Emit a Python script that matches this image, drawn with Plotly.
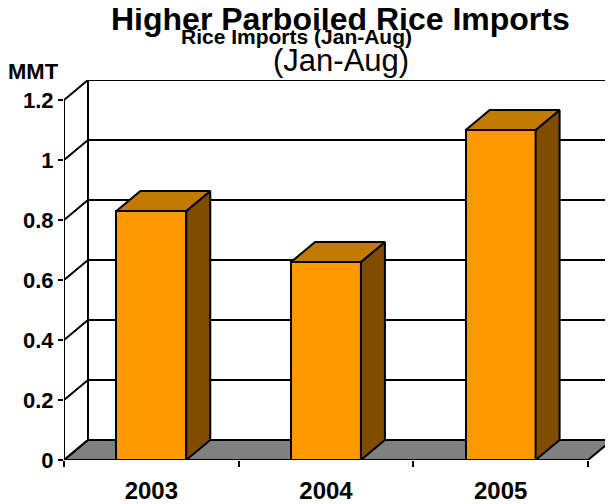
import plotly.graph_objects as go

# ---- data ----
categories = ["2003", "2004", "2005"]
imports_mmt = [0.83, 0.66, 1.10]
y_ticks = [0, 0.2, 0.4, 0.6, 0.8, 1.0, 1.2]
y_tick_labels = ["0", "0.2", "0.4", "0.6", "0.8", "1", "1.2"]

# ---- styling / geometry ----
FONT = "Liberation Sans, Arial, sans-serif"
FRONT = "#FF9900"
TOP = "#C27A00"
SIDE = "#7F4C00"
FLOOR = "#808080"
OFF = 8                      # page body margin of the html
W, H = 613 - OFF, 504 - OFF
L, T = 64 - OFF, 80 - OFF
plot_w, plot_h = 548, 380
R = W - L - plot_w
B = H - T - plot_h
DX = 0.1374          # depth offset in category units
DY = 0.0667          # depth offset in value units
BAR_W = 0.40
ymax = max(y_ticks)
n = len(categories)
centers = [i + 0.5 for i in range(n)]

fig = go.Figure()

# front faces
fig.add_trace(go.Bar(
    x=centers, y=imports_mmt, width=BAR_W,
    marker=dict(color=FRONT, line=dict(color="black", width=2)),
    hoverinfo="skip", showlegend=False,
))

# side and top faces
for c, v in zip(centers, imports_mmt):
    xl, xr = c - BAR_W / 2, c + BAR_W / 2
    fig.add_trace(go.Scatter(
        x=[xr, xr + DX, xr + DX, xr, xr], y=[0, DY, v + DY, v, 0],
        fill="toself", fillcolor=SIDE, mode="lines",
        line=dict(color="black", width=2), hoverinfo="skip", showlegend=False))
    fig.add_trace(go.Scatter(
        x=[xl, xr, xr + DX, xl + DX, xl], y=[v, v, v + DY, v + DY, v],
        fill="toself", fillcolor=TOP, mode="lines",
        line=dict(color="black", width=2), hoverinfo="skip", showlegend=False))

shapes = []
line_k = dict(color="black", width=2)
# floor
shapes.append(dict(type="path", layer="below", xref="x", yref="y",
                   path=f"M 0 0 L {n} 0 L {n + DX} {DY} L {DX} {DY} Z",
                   fillcolor=FLOOR, line=line_k))
# back wall gridlines and edges
for v in y_ticks:
    shapes.append(dict(type="line", layer="below", x0=DX, x1=n + DX,
                       y0=v + DY, y1=v + DY, line=line_k))
    shapes.append(dict(type="line", layer="below", x0=0, x1=DX,
                       y0=v, y1=v + DY, line=line_k))
shapes.append(dict(type="line", layer="below", x0=DX, x1=DX, y0=DY, y1=ymax + DY, line=line_k))
shapes.append(dict(type="line", layer="below", x0=n + DX, x1=n + DX, y0=DY, y1=ymax + DY, line=line_k))
# front axes
shapes.append(dict(type="line", layer="above", x0=0, x1=0, y0=0, y1=ymax, line=line_k))
shapes.append(dict(type="line", layer="above", x0=0, x1=n, y0=0, y1=0, line=line_k))

fig.update_layout(shapes=shapes)

def px_to_paper(px, py):
    return (px - OFF - L) / plot_w, (H - B - (py - OFF)) / plot_h

ann = []
for text, (px, py), size, bold in [
    ("Higher Parboiled Rice Imports", (340, 19), 32, True),
    ("Rice Imports (Jan-Aug)", (296, 37), 21, True),
    ("(Jan-Aug)", (341, 61), 31, False),
    ("MMT", (33, 71), 22, True),
]:
    ax, ay = px_to_paper(px, py)
    ann.append(dict(text=f"<b>{text}</b>" if bold else text, x=ax, y=ay,
                    xref="paper", yref="paper", showarrow=False,
                    xanchor="center", yanchor="middle",
                    font=dict(family=FONT, size=size, color="black")))

fig.update_layout(
    annotations=ann,
    width=W, height=H,
    margin=dict(l=L, r=R, t=T, b=B, pad=0),
    paper_bgcolor="white", plot_bgcolor="white",
    bargap=0,
    xaxis=dict(range=[0, n + DX], tickvals=centers,
               ticktext=[f"<b>{c}</b>" for c in categories],
               ticks="", showgrid=False, zeroline=False, showline=False,
               tickfont=dict(family=FONT, size=24, color="black"),
               ticklabelstandoff=14,
               minor=dict(tickvals=list(range(n + 1)), ticks="outside",
                          ticklen=6, tickwidth=2, tickcolor="black", showgrid=False),
               fixedrange=True),
    yaxis=dict(range=[0, ymax + DY], tickvals=y_ticks,
               ticktext=[f"<b>{t}</b>" for t in y_tick_labels],
               ticks="outside", ticklen=5, tickwidth=2, tickcolor="black",
               showgrid=False, zeroline=False, showline=False,
               tickfont=dict(family=FONT, size=22, color="black"),
               fixedrange=True),
)

fig.write_html("out.html")
